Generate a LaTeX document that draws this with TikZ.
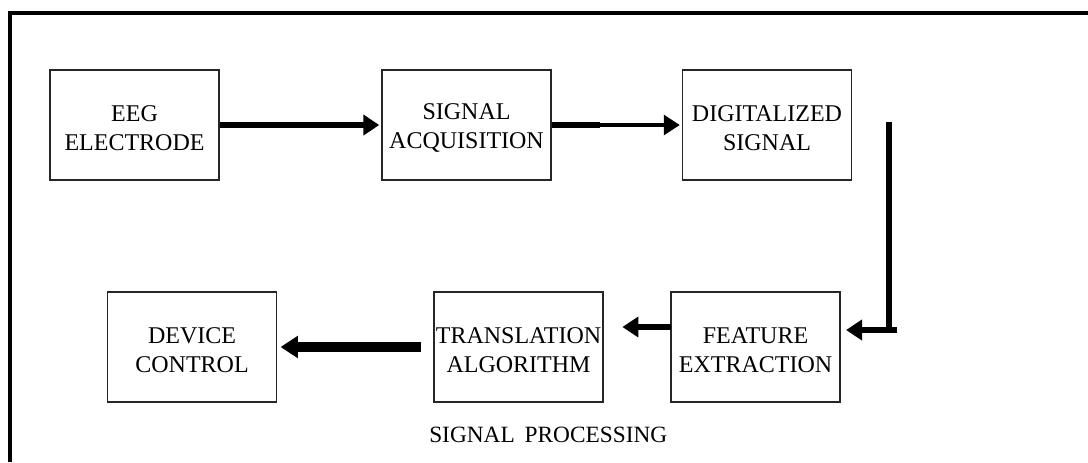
\documentclass[tikz,border=0pt]{standalone}
\usepackage{fontspec}
\setmainfont{Liberation Serif}
\usetikzlibrary{arrows.meta}
\tikzset{
  block/.style={draw=black!85, line width=1.1pt, fill=white,
    minimum width=126.75pt, minimum height=82.5pt, inner sep=0pt},
  caption/.style={align=center, inner sep=0pt,
    font=\fontsize{18}{21.75}\selectfont},
  flow/.style={line width=4.5pt, draw=black},
  head/.style={-{Triangle[length=12pt,width=15pt]}},
  frame/.style={line width=2.3pt, draw=black}
}
\begin{document}
\begin{tikzpicture}[x=0.75pt,y=-0.75pt]
  \useasboundingbox (0,0) rectangle (1088,462);
  % outer frame (top and left edges)
  \draw[frame] (10,462) -- (10,13) -- (1088,13);

  % processing blocks
  \node[block] (eeg) at (134.5,125) {};
  \node[block] (acq) at (466.5,125) {};
  \node[block] (dig) at (767,125) {};
  \node[block] (feat) at (755.5,347) {};
  \node[block] (trans) at (518.5,347) {};
  \node[block] (dev) at (192,347) {};

  % block captions, centred on the capitals
  \node[caption] (eegt) at ([yshift=-2.4pt]eeg.center) {EEG\\ELECTRODE};
  \node[caption] (acqt) at ([yshift=-2.4pt]acq.center) {SIGNAL\\ACQUISITION};
  \node[caption] (digt) at ([yshift=-2.4pt]dig.center) {DIGITALIZED\\SIGNAL};
  \node[caption] (featt) at ([yshift=-2.4pt]feat.center) {FEATURE\\EXTRACTION};
  \node[caption] (transt) at ([yshift=-2.4pt]trans.center) {TRANSLATION\\ALGORITHM};
  \node[caption] (devt) at ([yshift=-2.4pt]dev.center) {DEVICE\\CONTROL};

  \node[font=\fontsize{17.5}{20}\selectfont, anchor=base west, inner sep=0pt] (lbl) at (429,442)
    {SIGNAL\hspace{3pt} PROCESSING};

  % helper points for the routed connectors
  \coordinate (split) at (600,125);
  \coordinate (vtop) at (889,122);
  \coordinate (vbot) at (889,330);
  \coordinate (hstart) at (897,330);
  \coordinate (ft) at (671,327);

  % top row
  \draw[flow, head, shorten >=1.5pt] (eeg.east) -- (acq.west);
  \draw[flow] (acq.east) -- (split);
  \draw[line width=2.3pt, head, shorten >=1.5pt] (split) -- (dig.west);

  % return path down to the lower row
  \draw[flow] (vtop) -- (vbot);
  \draw[flow, head, shorten >=4pt] (hstart) -- (feat.east |- hstart);

  % lower row, right to left
  \draw[flow, head, shorten >=14pt] (ft) -- (trans.east |- ft);
  \draw[line width=7.5pt, -{Triangle[length=13pt,width=16pt]},
        shorten <=9pt, shorten >=2.5pt] (trans.west) -- (dev.east);
\end{tikzpicture}
\end{document}
